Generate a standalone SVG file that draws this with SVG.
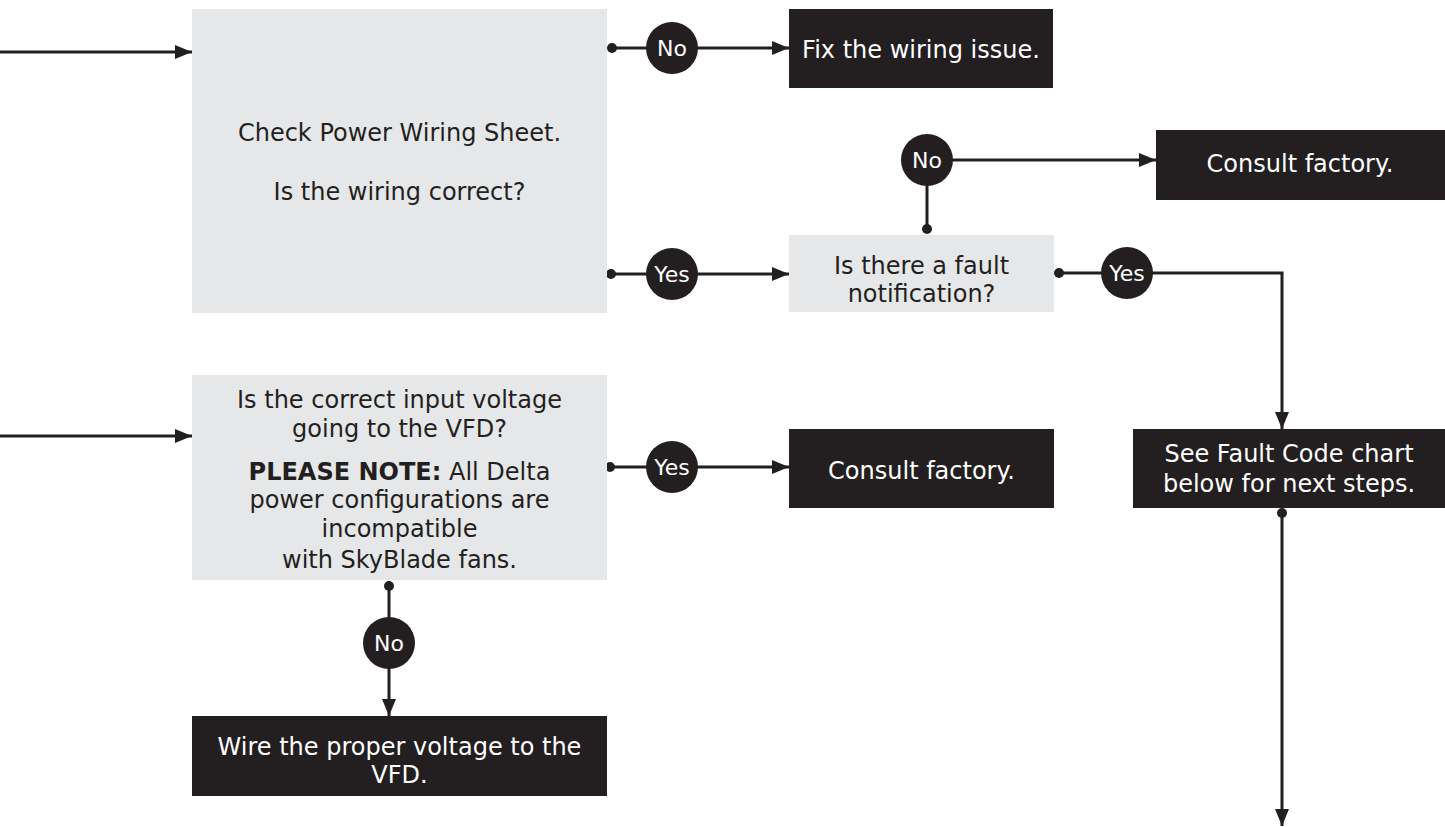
<svg xmlns="http://www.w3.org/2000/svg" width="1445" height="827" viewBox="0 0 1445 827">
<style>
.gbox{fill:#e6e7e8}
.dbox{fill:#231f20}
.t{font-family:"DejaVu Sans",sans-serif;font-size:24px;text-anchor:middle;fill:#231f20}
.w{fill:#ffffff}
.lab{font-family:"DejaVu Sans",sans-serif;font-size:22px;text-anchor:middle;fill:#ffffff}
.ln{stroke:#231f20;stroke-width:3;fill:none}
.dot{fill:#231f20}
.circ{fill:#231f20}
</style>
<defs>
<marker id="ah" markerUnits="userSpaceOnUse" markerWidth="18" markerHeight="16" refX="17" refY="7" orient="auto">
<path d="M0,0 L17,7 L0,14 z" fill="#231f20"/>
</marker>
</defs>
<rect width="1445" height="827" fill="#ffffff"/>
<g id="connectors">
<line class="ln" x1="0" y1="52" x2="192" y2="52" marker-end="url(#ah)"/>
<line class="ln" x1="612" y1="48" x2="789" y2="48" marker-end="url(#ah)"/>
<line class="ln" x1="611" y1="274" x2="789" y2="274" marker-end="url(#ah)"/>
<path class="ln" d="M927,229 L927,160 L1156,160" marker-end="url(#ah)"/>
<path class="ln" d="M1059,273 L1282,273 L1282,429" marker-end="url(#ah)"/>
<line class="ln" x1="1282" y1="513" x2="1282" y2="826" marker-end="url(#ah)"/>
<line class="ln" x1="0" y1="436" x2="192" y2="436" marker-end="url(#ah)"/>
<line class="ln" x1="610" y1="467" x2="789" y2="467" marker-end="url(#ah)"/>
<line class="ln" x1="389" y1="586" x2="389" y2="716" marker-end="url(#ah)"/>
<circle class="dot" cx="612" cy="48" r="5"/>
<circle class="dot" cx="611" cy="274" r="5"/>
<circle class="dot" cx="927" cy="229" r="5"/>
<circle class="dot" cx="1059" cy="273" r="5"/>
<circle class="dot" cx="1282" cy="513" r="5"/>
<circle class="dot" cx="610" cy="467" r="5"/>
<circle class="dot" cx="389" cy="586" r="5"/>
<g id="lbl-no1"><circle class="circ" cx="672" cy="48" r="26"/><text class="lab" x="672" y="56">No</text></g>
<g id="lbl-yes1"><circle class="circ" cx="672" cy="274" r="26"/><text class="lab" x="672" y="282">Yes</text></g>
<g id="lbl-no2"><circle class="circ" cx="927" cy="160" r="26"/><text class="lab" x="927" y="168">No</text></g>
<g id="lbl-yes2"><circle class="circ" cx="1127" cy="273" r="26"/><text class="lab" x="1127" y="281">Yes</text></g>
<g id="lbl-yes3"><circle class="circ" cx="672" cy="467" r="26"/><text class="lab" x="672" y="475">Yes</text></g>
<g id="lbl-no3"><circle class="circ" cx="389" cy="643" r="26"/><text class="lab" x="389" y="651">No</text></g>
</g>
<g id="check-wiring">
<rect class="gbox" x="192" y="9" width="415" height="304"/>
<text class="t" x="399.5" y="141">Check Power Wiring Sheet.</text>
<text class="t" x="399.5" y="200">Is the wiring correct?</text>
</g>
<g id="fix-wiring">
<rect class="dbox" x="789" y="9" width="264" height="79"/>
<text class="t w" x="921" y="58">Fix the wiring issue.</text>
</g>
<g id="consult-factory-1">
<rect class="dbox" x="1156" y="130" width="289" height="70"/>
<text class="t w" x="1300" y="172">Consult factory.</text>
</g>
<g id="fault-notification">
<rect class="gbox" x="789" y="235" width="265" height="77"/>
<text class="t" x="921.5" y="274">Is there a fault</text>
<text class="t" x="921.5" y="302">notification?</text>
</g>
<g id="input-voltage">
<rect class="gbox" x="192" y="375" width="415" height="205"/>
<text class="t" x="399.5" y="408">Is the correct input voltage</text>
<text class="t" x="399.5" y="437">going to the VFD?</text>
<text class="t" x="399.5" y="480"><tspan font-weight="bold">PLEASE NOTE:</tspan> All Delta</text>
<text class="t" x="399.5" y="508">power configurations are</text>
<text class="t" x="399.5" y="537">incompatible</text>
<text class="t" x="399.5" y="568">with SkyBlade fans.</text>
</g>
<g id="consult-factory-2">
<rect class="dbox" x="789" y="429" width="265" height="79"/>
<text class="t w" x="921.5" y="479">Consult factory.</text>
</g>
<g id="fault-code-chart">
<rect class="dbox" x="1133" y="429" width="312" height="79"/>
<text class="t w" x="1289" y="462">See Fault Code chart</text>
<text class="t w" x="1289" y="492">below for next steps.</text>
</g>
<g id="wire-voltage">
<rect class="dbox" x="192" y="716" width="415" height="80"/>
<text class="t w" x="399.5" y="755">Wire the proper voltage to the</text>
<text class="t w" x="399.5" y="783">VFD.</text>
</g>
</svg>
